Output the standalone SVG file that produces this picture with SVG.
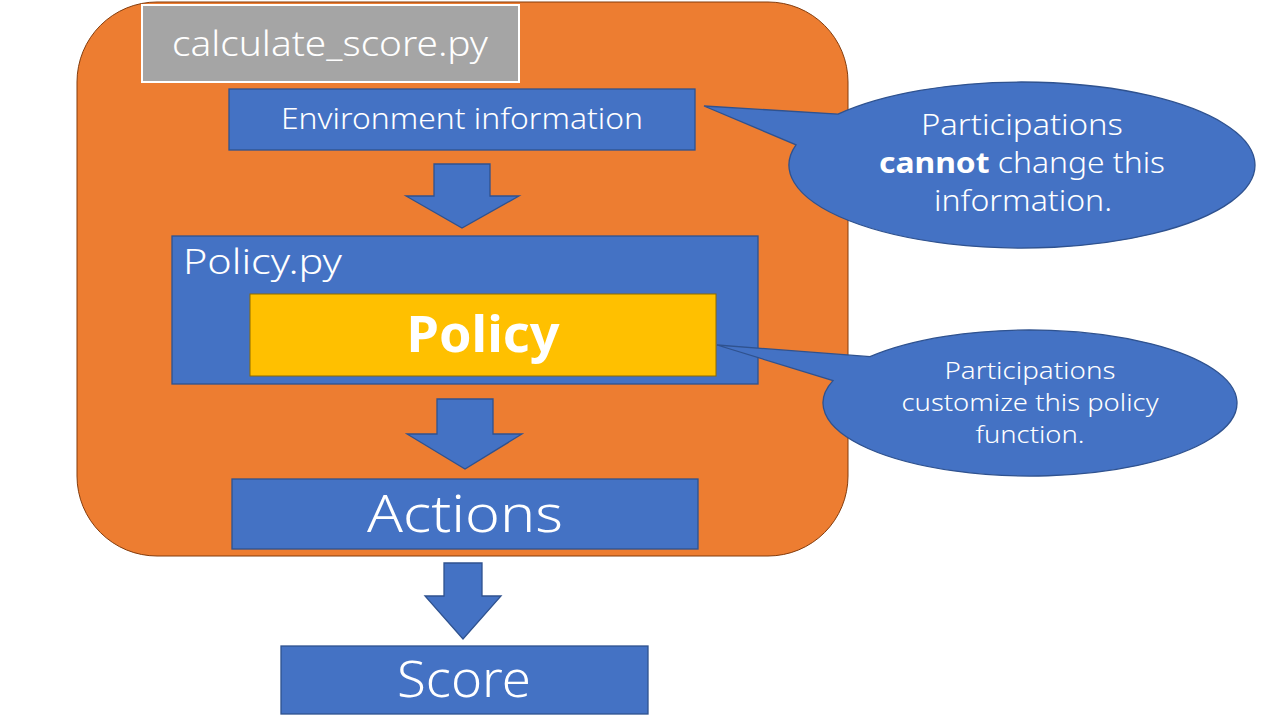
<svg xmlns="http://www.w3.org/2000/svg" width="1280" height="720" viewBox="0 0 1280 720">
<style>
.box{fill:#4472C4;stroke:#2F528F;stroke-width:1.3}
.arrow{fill:#4472C4;stroke:#2F528F;stroke-width:1.3}
.call{fill:#4472C4;stroke:#2F528F;stroke-width:1.3}
text{font-family:"Noto Sans","Liberation Sans",sans-serif;font-weight:300;fill:#FFFFFF}
.c{text-anchor:middle}
</style>
<rect width="1280" height="720" fill="#FFFFFF"/>
<g id="container">
<rect x="77" y="2" width="771" height="554" rx="80" ry="80" fill="#ED7D31" stroke="#843C0C" stroke-width="1"/>
</g>
<g id="file-label">
<rect x="142" y="5" width="377" height="77" fill="#A5A5A5" stroke="#FFFFFF" stroke-width="2"/>
<text x="330" y="56" class="c" font-size="34" textLength="316" lengthAdjust="spacingAndGlyphs">calculate_score.py</text>
</g>
<g id="env">
<rect class="box" x="229" y="89" width="466" height="61"/>
<text x="462" y="129" class="c" font-size="30" textLength="362" lengthAdjust="spacingAndGlyphs">Environment information</text>
</g>
<g id="policy-file">
<rect class="box" x="172" y="236" width="586" height="148"/>
<text x="183" y="274" font-size="35" textLength="159" lengthAdjust="spacingAndGlyphs">Policy.py</text>
</g>
<g id="policy">
<rect x="250" y="294" width="466" height="82" fill="#FFC000" stroke="#8C6A00" stroke-width="1"/>
<text x="483" y="352" class="c" font-size="50" style="font-weight:bold" textLength="153" lengthAdjust="spacingAndGlyphs">Policy</text>
</g>
<g id="actions">
<rect class="box" x="232" y="479" width="466" height="70"/>
<text x="465" y="532" class="c" font-size="52" textLength="196" lengthAdjust="spacingAndGlyphs">Actions</text>
</g>
<g id="score">
<rect class="box" x="281" y="646" width="367" height="68"/>
<text x="464" y="697" class="c" font-size="50" textLength="134" lengthAdjust="spacingAndGlyphs">Score</text>
</g>
<g id="connectors">
<polygon class="arrow" points="434,164 490,164 490,196 519,196 462,228 406,196 434,196"/>
<polygon class="arrow" points="437,399 493,399 493,434 522,434 465,469 407,434 437,434"/>
<polygon class="arrow" points="444,563 482,563 482,596 501,596 463,639 425,596 444,596"/>
</g>
<g id="callout-env">
<path class="call" d="M 838 114.1 L 704 106 L 796 144.8 A 233 83 0 1 0 838 114.1 Z"/>
<text x="1022" y="135" class="c" font-size="29" textLength="202" lengthAdjust="spacingAndGlyphs">Participations</text>
<text x="1022" y="173" class="c" font-size="29" textLength="286" lengthAdjust="spacingAndGlyphs"><tspan style="font-weight:bold">cannot</tspan> change this</text>
<text x="1023" y="211" class="c" font-size="29" textLength="178" lengthAdjust="spacingAndGlyphs">information.</text>
</g>
<g id="callout-policy">
<path class="call" d="M 870 356.7 L 717 345 L 833 380.6 A 207 73 0 1 0 870 356.7 Z"/>
<text x="1030" y="379" class="c" font-size="24" textLength="171" lengthAdjust="spacingAndGlyphs">Participations</text>
<text x="1030" y="411" class="c" font-size="24" textLength="257" lengthAdjust="spacingAndGlyphs">customize this policy</text>
<text x="1030" y="443" class="c" font-size="24" textLength="109" lengthAdjust="spacingAndGlyphs">function.</text>
</g>
</svg>
